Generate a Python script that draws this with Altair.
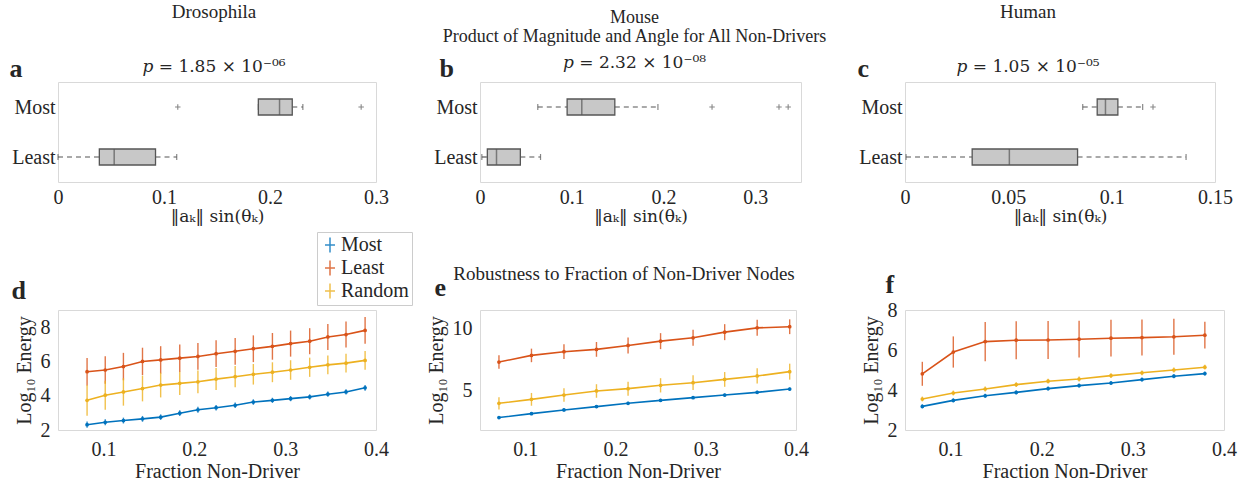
import altair as alt
import pandas as pd

SERIF = "Liberation Serif"
MATHSERIF = "DejaVu Serif"
INK = "#262626"
BOX_FILL = "#c8c8c8"
BOX_EDGE = "#555555"
FRAME = "#d9d9d9"
SERIES = ["Most", "Least", "Random"]
COLORS = ["#0072BD", "#D95319", "#EDB120"]
GROUPS = ["Most", "Least"]
CROSS = "M-1,0H1M0,-1V1"
LEG_SYMBOL = "M-1,0H1M0,-1.5V1.5"

# ---------------- box-plot statistics, order: Most, Least ----------------
dro_lo = [0.189, 0.000]
dro_q1 = [0.189, 0.039]
dro_med = [0.209, 0.053]
dro_q3 = [0.221, 0.092]
dro_hi = [0.231, 0.112]
dro_out_val = [0.113, 0.286]
dro_out_grp = ["Most", "Most"]

mou_lo = [0.063, 0.002]
mou_q1 = [0.095, 0.008]
mou_med = [0.111, 0.018]
mou_q3 = [0.147, 0.044]
mou_hi = [0.194, 0.066]
mou_out_val = [0.253, 0.326, 0.336]
mou_out_grp = ["Most", "Most", "Most"]

hum_lo = [0.086, 0.0005]
hum_q1 = [0.093, 0.0325]
hum_med = [0.097, 0.0505]
hum_q3 = [0.103, 0.0835]
hum_hi = [0.115, 0.136]
hum_out_val = [0.120]
hum_out_grp = ["Most"]

# ---------------- robustness curves ----------------
d_x = [0.082, 0.102, 0.122, 0.143, 0.163, 0.184, 0.204, 0.224,
       0.245, 0.265, 0.286, 0.306, 0.327, 0.347, 0.367, 0.388]
d_most = [2.31, 2.45, 2.55, 2.65, 2.75, 2.98, 3.18, 3.30,
          3.44, 3.63, 3.73, 3.83, 3.93, 4.09, 4.22, 4.46]
d_most_err = [0.18, 0.17, 0.17, 0.17, 0.16, 0.17, 0.17, 0.16,
              0.16, 0.16, 0.15, 0.15, 0.15, 0.15, 0.15, 0.17]
d_least = [5.40, 5.50, 5.70, 6.00, 6.09, 6.19, 6.29, 6.45,
           6.59, 6.74, 6.88, 7.04, 7.18, 7.43, 7.57, 7.81]
d_least_err = [0.80, 0.80, 0.80, 0.80, 0.80, 0.80, 0.78, 0.78,
               0.78, 0.78, 0.78, 0.76, 0.76, 0.76, 0.76, 0.78]
d_rand = [3.73, 4.03, 4.22, 4.42, 4.62, 4.72, 4.81, 4.97,
          5.11, 5.25, 5.37, 5.50, 5.66, 5.80, 5.90, 6.06]
d_rand_err = [0.90, 0.85, 0.80, 0.75, 0.72, 0.68, 0.66, 0.64,
              0.62, 0.60, 0.58, 0.57, 0.56, 0.55, 0.55, 0.55]

e_x = [0.071, 0.107, 0.143, 0.179, 0.214, 0.250, 0.286, 0.321, 0.357, 0.393]
e_most = [2.76, 3.08, 3.38, 3.65, 3.92, 4.16, 4.38, 4.59, 4.81, 5.08]
e_most_err = [0.12, 0.12, 0.12, 0.12, 0.12, 0.12, 0.12, 0.12, 0.12, 0.12]
e_least = [7.27, 7.81, 8.11, 8.30, 8.62, 8.97, 9.24, 9.70, 10.05, 10.14]
e_least_err = [0.55, 0.55, 0.60, 0.60, 0.65, 0.65, 0.65, 0.65, 0.65, 0.60]
e_rand = [3.92, 4.24, 4.59, 4.92, 5.11, 5.38, 5.59, 5.86, 6.14, 6.49]
e_rand_err = [0.50, 0.52, 0.55, 0.55, 0.57, 0.58, 0.60, 0.60, 0.62, 0.65]

f_x = [0.069, 0.103, 0.138, 0.172, 0.207, 0.241, 0.276, 0.310, 0.345, 0.379]
f_most = [3.18, 3.48, 3.71, 3.88, 4.07, 4.22, 4.35, 4.52, 4.69, 4.82]
f_most_err = [0.10, 0.10, 0.10, 0.10, 0.10, 0.10, 0.10, 0.10, 0.10, 0.10]
f_least = [4.81, 5.90, 6.42, 6.49, 6.50, 6.54, 6.59, 6.62, 6.66, 6.74]
f_least_err = [0.60, 0.78, 0.98, 0.95, 0.95, 0.92, 0.92, 0.90, 0.90, 0.67]
f_rand = [3.55, 3.85, 4.05, 4.27, 4.44, 4.55, 4.72, 4.86, 5.00, 5.14]
f_rand_err = [0.12, 0.12, 0.12, 0.12, 0.12, 0.12, 0.12, 0.12, 0.12, 0.12]


def box_panel(lo, q1, med, q3, hi, out_val, out_grp, xmax, xticks, width,
              letter, letter_x, title_lines, pval, sub_pad, title_dy, title_dx,
              line_h=17, title_size=19):
    df = pd.DataFrame({"g": GROUPS, "lo": lo, "q1": q1, "med": med, "q3": q3, "hi": hi})
    odf = pd.DataFrame({"g": out_grp, "v": out_val})
    xscale = alt.Scale(domain=[0, xmax], nice=False, zero=False)
    xaxis = alt.Axis(values=xticks, labelExpr="format(datum.value, '.2~f')",
                     title="‖aₖ‖ sin(θₖ)",
                     titleFont=MATHSERIF, titleFontSize=17,
                     labelFlush=False, labelOverlap=False, labelPadding=5, titlePadding=1)
    yscale = alt.Scale(domain=GROUPS, type="point", padding=0.5)
    yaxis = alt.Axis(title=letter, titleAngle=0, titleX=letter_x, titleY=-6,
                     titleAlign="left", titleBaseline="alphabetic",
                     titleFontSize=26, titleFontWeight="bold", labelPadding=3)

    def X(f):
        return alt.X(f, type="quantitative", scale=xscale, axis=xaxis)

    Y = alt.Y("g", type="nominal", scale=yscale, axis=yaxis, sort=GROUPS)
    base = alt.Chart(df)
    wl = base.mark_rule(color=BOX_EDGE, strokeDash=[5, 4], strokeWidth=1.2).encode(
        x=X("lo"), x2=alt.X2("q1"), y=Y)
    wh = base.mark_rule(color=BOX_EDGE, strokeDash=[5, 4], strokeWidth=1.2).encode(
        x=X("q3"), x2=alt.X2("hi"), y=Y)
    box = base.mark_bar(size=16, fill=BOX_FILL, stroke=BOX_EDGE, strokeWidth=1.3).encode(
        x=X("q1"), x2=alt.X2("q3"), y=Y)
    medt = base.mark_tick(size=16, thickness=1.5, color=BOX_EDGE, orient="vertical").encode(
        x=X("med"), y=Y)
    capl = base.mark_tick(size=6, thickness=1.2, color=BOX_EDGE, orient="vertical").encode(
        x=X("lo"), y=Y)
    caph = base.mark_tick(size=6, thickness=1.2, color=BOX_EDGE, orient="vertical").encode(
        x=X("hi"), y=Y)
    outl = alt.Chart(odf).mark_point(shape=CROSS, size=30, stroke=BOX_EDGE,
                                     strokeWidth=1.1, filled=False).encode(
        x=X("v"), y=Y)
    return alt.layer(wl, wh, box, medt, capl, caph, outl).properties(
        width=width, height=100,
        title=alt.TitleParams(text=title_lines, subtitle=pval, font=SERIF,
                              subtitleFont=MATHSERIF,
                              fontSize=title_size, subtitleFontSize=17, fontWeight="normal",
                              color=INK, subtitleColor=INK, lineHeight=line_h,
                              subtitlePadding=sub_pad, anchor="middle", frame="group",
                              offset=0, dy=title_dy, dx=title_dx))


def line_panel(xs, most, most_e, least, least_e, rand, rand_e, ydom, yticks, width,
               letter, letter_x, letter_y, show_legend, title=None):
    rows = []
    for s, vals, errs in (("Most", most, most_e), ("Least", least, least_e),
                          ("Random", rand, rand_e)):
        for xv, yv, ev in zip(xs, vals, errs):
            rows.append({"s": s, "x": xv, "y": yv, "lo": yv - ev, "hi": yv + ev})
    df = pd.DataFrame(rows)
    xscale = alt.Scale(domain=[0.05, 0.4], nice=False, zero=False)
    yscale = alt.Scale(domain=ydom, nice=False, zero=False)
    yaxis = alt.Axis(values=yticks, title="Log₁₀ Energy", labelPadding=8, titlePadding=6,
                     labelFlush=False)
    bottom_axis = alt.Axis(values=[0.1, 0.2, 0.3, 0.4], format=".1f", labelFlush=False,
                           labelOverlap=False,
                           title="Fraction Non-Driver", labelPadding=9, titlePadding=2)
    top_axis = alt.Axis(orient="top", labels=False, ticks=False, domain=False,
                        title=letter, titleAngle=0, titleX=letter_x, titleY=letter_y,
                        titleAlign="left", titleBaseline="alphabetic",
                        titleFontSize=26, titleFontWeight="bold")
    if show_legend:
        legend = alt.Legend(title=None, orient="none", legendX=259, legendY=-78,
                            symbolType=LEG_SYMBOL, symbolSize=100, symbolStrokeWidth=1.5,
                            labelFontSize=20, labelFont=SERIF, labelColor=INK,
                            padding=3, rowPadding=1, strokeColor="#cccccc",
                            fillColor="white", labelOffset=1)
    else:
        legend = None
    color = alt.Color("s:N", scale=alt.Scale(domain=SERIES, range=COLORS), legend=legend)
    base = alt.Chart(df)
    bars = base.mark_rule(strokeWidth=1.4, opacity=0.8).encode(
        x=alt.X("x:Q", scale=xscale, axis=top_axis),
        y=alt.Y("lo:Q", scale=yscale, axis=yaxis), y2=alt.Y2("hi:Q"), color=color)
    line = base.mark_line(strokeWidth=1.6).encode(
        x=alt.X("x:Q", scale=xscale, axis=bottom_axis),
        y=alt.Y("y:Q", scale=yscale, axis=yaxis), color=color)
    pts = base.mark_point(filled=True, size=14, opacity=1).encode(
        x=alt.X("x:Q", scale=xscale, axis=None),
        y=alt.Y("y:Q", scale=yscale, axis=yaxis), color=color)
    props = dict(width=width, height=120)
    if title is not None:
        props["title"] = title
    return alt.layer(bars, line, pts).resolve_axis(x="independent").properties(**props)


a = box_panel(dro_lo, dro_q1, dro_med, dro_q3, dro_hi, dro_out_val, dro_out_grp,
              0.3, [0, 0.1, 0.2, 0.3], 318, "a", -49, ["Drosophila"],
              "𝑝 = 1.85 × 10⁻⁰⁶", 37, 20, -3)
b = box_panel(mou_lo, mou_q1, mou_med, mou_q3, mou_hi, mou_out_val, mou_out_grp,
              0.35, [0, 0.1, 0.2, 0.3], 321, "b", -41,
              ["Mouse", "Product of Magnitude and Angle for All Non-Drivers"],
              "𝑝 = 2.32 × 10⁻⁰⁸", 9, 16, -6, line_h=19, title_size=18)
c = box_panel(hum_lo, hum_q1, hum_med, hum_q3, hum_hi, hum_out_val, hum_out_grp,
              0.15, [0, 0.05, 0.1, 0.15], 310, "c", -48, ["Human"],
              "𝑝 = 1.05 × 10⁻⁰⁵", 37, 20, -32)

d = line_panel(d_x, d_most, d_most_err, d_least, d_least_err, d_rand, d_rand_err,
               [2, 9], [2, 4, 6, 8], 318, "d", -47, -12, True)
e = line_panel(e_x, e_most, e_most_err, e_least, e_least_err, e_rand, e_rand_err,
               [1.75, 11.5], [5, 10], 316, "e", -46, -15, False,
               title=alt.TitleParams("Robustness to Fraction of Non-Driver Nodes",
                                     font=SERIF, fontSize=19, fontWeight="normal",
                                     color=INK, anchor="middle", frame="group",
                                     offset=0, dx=-14, dy=10))
f = line_panel(f_x, f_most, f_most_err, f_least, f_least_err, f_rand, f_rand_err,
               [2, 8], [2, 4, 6, 8], 319, "f", -20, -18, False)

chart = alt.concat(
    a, b, c, d, e, f, columns=3, spacing={"row": 128, "column": 104},
    bounds="flush", align="none",
).resolve_scale(color="independent").properties(
    padding={"left": 8, "top": 2, "right": 5, "bottom": 5}
).configure_view(
    stroke=FRAME, strokeWidth=1
).configure_axis(
    labelFont=SERIF, titleFont=SERIF, labelFontSize=20, titleFontSize=20,
    labelColor=INK, titleColor=INK, domain=False, ticks=False, grid=False,
    titleFontWeight="normal"
).configure_title(font=SERIF, color=INK)

chart.save("out.html", embed_options={"renderer": "svg", "actions": False})
